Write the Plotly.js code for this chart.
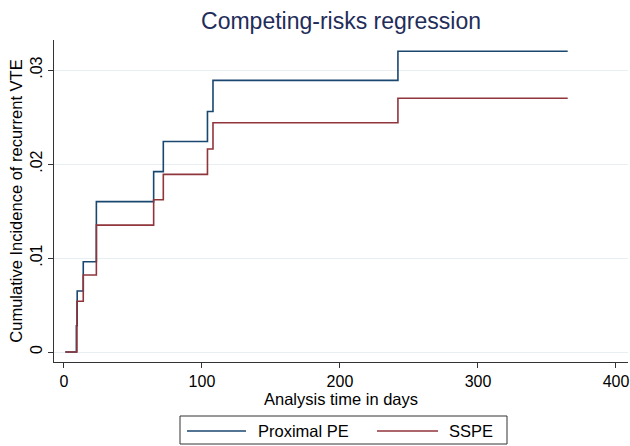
<!DOCTYPE html>
<html>
<head>
<meta charset="utf-8">
<script src="https://cdn.plot.ly/plotly-3.0.1.min.js"></script>
<style>html,body{margin:0;padding:0;background:#fff;}#chart{width:630px;height:446px;}</style>
</head>
<body>
<div id="chart"></div>
<script>
// Data
const daysProximal = [1, 9, 9.6, 14, 23.5, 65, 72, 104, 108, 242, 365];
const cifProximal  = [0, 0.0028, 0.0065, 0.0096, 0.0160, 0.0192, 0.0224, 0.0256, 0.0289, 0.0320, 0.0320];
const daysSSPE     = [1, 9.4, 14, 23.5, 65, 72, 104, 108, 242, 365];
const cifSSPE      = [0, 0.0054, 0.0082, 0.0135, 0.0162, 0.0189, 0.0216, 0.0244, 0.0270, 0.0270];
const seriesNames  = ["Proximal PE", "SSPE"];
const yTickVals    = [0, 0.01, 0.02, 0.03];
const yTickText    = ["0", ".01", ".02", ".03"];
const xTickVals    = [0, 100, 200, 300, 400];

const navy = "#1a476f", maroon = "#90353b";
const FONT = "Liberation Sans, Arial, Helvetica, sans-serif";

// plot area in pixels
const W = 630, H = 446, L = 54, R = 2, T = 40, B = 84;
const pw = W - L - R, ph = H - T - B;
const px = x => (x - L) / pw;
const py = y => (H - B - y) / ph;

const traces = [
  {x: daysProximal, y: cifProximal, name: seriesNames[0], mode: "lines",
   line: {shape: "hv", color: navy, width: 1.6}, showlegend: false},
  {x: daysSSPE, y: cifSSPE, name: seriesNames[1], mode: "lines",
   line: {shape: "hv", color: maroon, width: 1.6}, showlegend: false}
];

const legY = 431;
const layout = {
  width: W, height: H,
  margin: {l: L, r: R, t: T, b: B, pad: 0},
  paper_bgcolor: "#fff", plot_bgcolor: "#fff",
  font: {family: FONT, size: 16.5, color: "#000"},
  title: {text: "Competing-risks regression", font: {family: FONT, size: 23, color: "#1f2d5a"},
          xref: "paper", x: 0.5, xanchor: "center", yref: "container", y: 1 - 21/H, yanchor: "middle"},
  xaxis: {range: [-7.2, 408.7], tickvals: xTickVals, ticks: "outside", ticklen: 5, tickwidth: 1,
          tickcolor: "#333", showline: true, linecolor: "#333", linewidth: 1, showgrid: false,
          zeroline: false, tickfont: {size: 16},
          title: {text: "Analysis time in days", font: {size: 16.5}, standoff: 3}},
  yaxis: {range: [-0.00106, 0.0332], tickvals: yTickVals, ticktext: yTickText, tickangle: -90,
          ticks: "outside", ticklen: 5, tickwidth: 1, tickcolor: "#333", showline: true,
          linecolor: "#333", linewidth: 1, showgrid: true, gridcolor: "#e8eff2", gridwidth: 1,
          zeroline: false, tickfont: {size: 16}, ticklabelstandoff: 0,
          title: {text: "Cumulative Incidence of recurrent VTE", font: {size: 16.5}, standoff: 0}},
  shapes: [
    {type: "rect", xref: "paper", yref: "paper", x0: px(180), x1: px(507), y0: py(416), y1: py(444),
     line: {color: "#333", width: 1}, fillcolor: "rgba(0,0,0,0)"},
    {type: "line", xref: "paper", yref: "paper", x0: px(187), x1: px(246), y0: py(legY), y1: py(legY),
     line: {color: navy, width: 1.6}},
    {type: "line", xref: "paper", yref: "paper", x0: px(377), x1: px(438), y0: py(legY), y1: py(legY),
     line: {color: maroon, width: 1.6}}
  ],
  annotations: [
    {xref: "paper", yref: "paper", x: px(256), y: py(legY), xanchor: "left", yanchor: "middle",
     text: seriesNames[0], showarrow: false, font: {size: 16.5, color: "#000"}},
    {xref: "paper", yref: "paper", x: px(447), y: py(legY), xanchor: "left", yanchor: "middle",
     text: seriesNames[1], showarrow: false, font: {size: 16.5, color: "#000"}}
  ]
};

Plotly.newPlot("chart", traces, layout, {displayModeBar: false, staticPlot: true});
</script>
</body>
</html>
